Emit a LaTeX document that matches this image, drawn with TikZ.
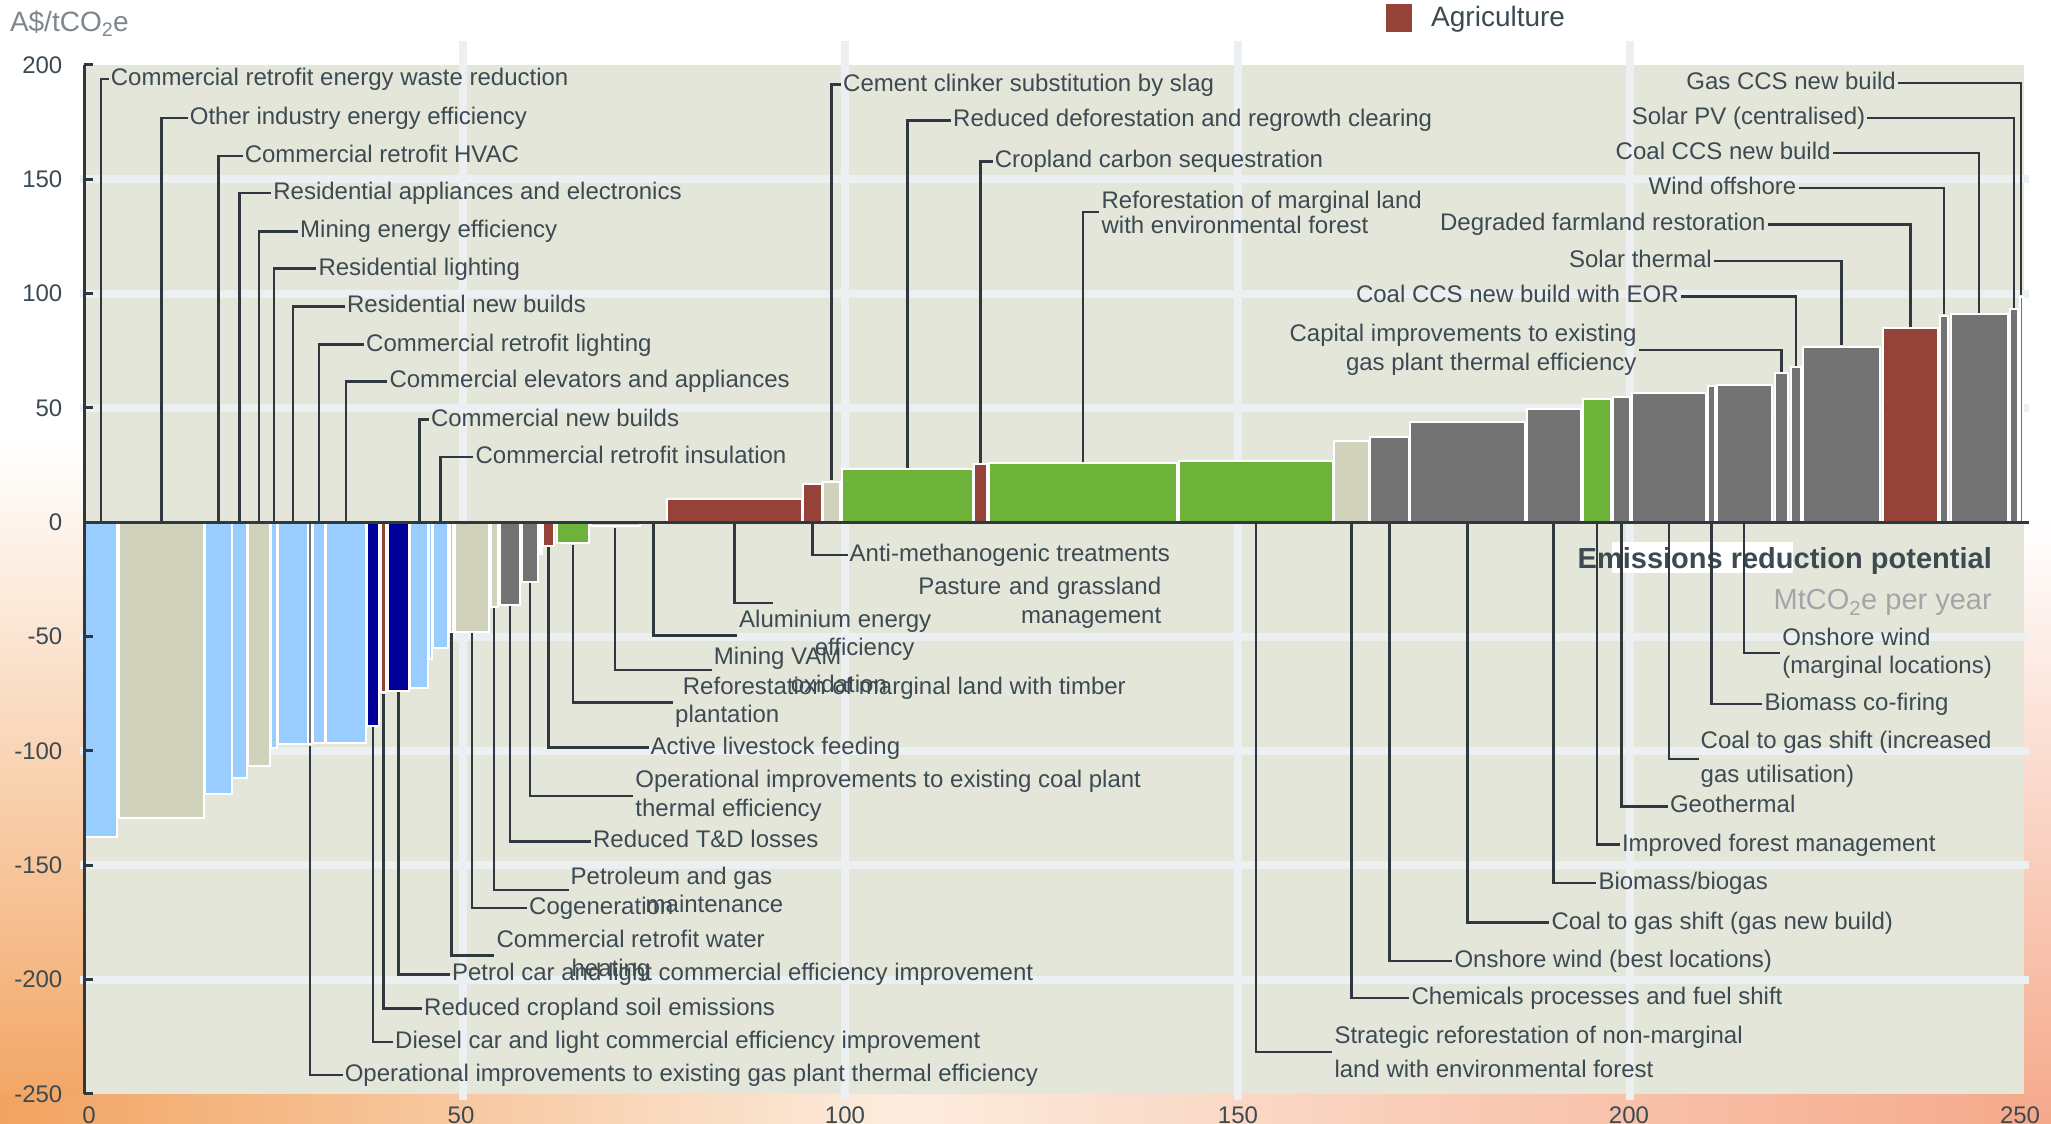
\documentclass[tikz,border=0pt]{standalone}
\usepackage{fontspec}
\setmainfont{Liberation Sans}
\usepackage{tikz}

\definecolor{plotbg}{RGB}{229,230,218}
\definecolor{gridc}{RGB}{237,240,242}
\definecolor{lblue}{RGB}{153,204,255}
\definecolor{dblue}{RGB}{0,0,153}
\definecolor{sand}{RGB}{209,210,188}
\definecolor{agri}{RGB}{149,66,56}
\definecolor{forest}{RGB}{109,179,57}
\definecolor{power}{RGB}{115,115,115}
\definecolor{ink}{RGB}{60,74,82}
\definecolor{axisc}{RGB}{46,56,62}
\definecolor{unitc}{RGB}{125,136,142}
\definecolor{subc}{RGB}{163,166,168}
\definecolor{glowL}{RGB}{242,163,96}
\definecolor{glowM}{RGB}{252,236,222}
\definecolor{glowP}{RGB}{250,222,200}
\definecolor{glowR}{RGB}{245,168,138}

\tikzset{
    lbl/.style={
           font=\fontsize{24}{28.5}\selectfont,
           text=ink,
           inner xsep=2pt, inner ysep=0pt,
           text height=17pt, text depth=4pt,
           },
    lblm/.style={
           font=\fontsize{24}{28.5}\selectfont,
           text=ink,
           inner xsep=2pt, inner ysep=0pt,
           align=left,
           },
    conn/.style={
           draw=axisc,
           line width=2.4pt,
           shorten <=1.5pt,
           },
    barbox/.style={
           draw=white,
           line width=2pt,
           },
    gridln/.style={
           draw=gridc,
           line width=8pt,
           },
    axisln/.style={
           draw=axisc,
           line width=3pt,
           },
    ticklbl/.style={
           font=\fontsize{24}{28}\selectfont,
           text=ink,
           inner sep=0pt,
           }
}

% bar: name, from, to, A$/tCO2e, colour
\newcommand{\macbar}[5]{%
  \draw[barbox, fill=#5] (#2,0) rectangle (#3,#4);
  \coordinate (#1) at ({(#2+#3)/2},#4);
  \coordinate (#1-0) at ({(#2+#3)/2},0);
}

\begin{document}
\begin{tikzpicture}[x=1pt,y=-1pt]
\useasboundingbox (0,0) rectangle (2051,1124);
\fill[white] (0,0) rectangle (2051,1124);
\shade[top color=white, middle color=glowM, bottom color=glowL] (0,440) rectangle (84,1124);
\shade[left color=glowL, right color=glowM] (0,1094) rectangle (900,1124);
\shade[left color=glowM, right color=glowR] (900,1094) rectangle (2051,1124);
\shade[top color=white, middle color=glowP, bottom color=glowR] (2024,520) rectangle (2051,1124);

\node[anchor=west, font=\fontsize{28}{30}\selectfont, text=unitc, inner sep=0pt] (unit) at (9.8,23.2) {A\$/tCO\textsubscript{2}e};
\fill[agri] (1386,4) rectangle (1412,32);
\node[anchor=west, font=\fontsize{28}{30}\selectfont, text=ink, inner sep=0pt] (agr) at (1431,19.6) {Agriculture};

\begin{scope}[shift={(0,522.2)},y=2.287pt]
\fill[plotbg] (84,200) rectangle (2024,-250);
\foreach \v in {150,100,50,-50,-100,-150,-200}
    \draw[gridln] (80,\v) -- (2029,\v);
\end{scope}
\foreach \x in {463,844.6,1237.7,1630}
    \draw[gridln] (\x,41) -- (\x,1100);
\fill[white] (1611.6,541.8) rectangle (1793,572.8);

\begin{scope}[shift={(0,522.2)},y=2.287pt]
\macbar{b1}{84.7}{117.3}{-137.8}{lblue}
\macbar{b2}{119}{204}{-129.5}{sand}
\macbar{b3}{205}{231.7}{-118.9}{lblue}
\macbar{b4}{232.3}{246.7}{-111.7}{lblue}
\macbar{b5}{248.3}{270}{-106.5}{sand}
\macbar{b6}{271}{277.3}{-98.9}{lblue}
\macbar{b7}{278.3}{307.7}{-97.1}{lblue}
\macbar{b8}{308.3}{311.7}{-97}{power}
\macbar{b9}{312.7}{325}{-96.7}{lblue}
\macbar{b10}{326}{366}{-96.7}{lblue}
\macbar{b11}{367.3}{379}{-89}{dblue}
\macbar{b12}{381}{386}{-74.4}{agri}
\macbar{b13}{388.3}{409}{-73.8}{dblue}
\macbar{b14}{410.3}{428.3}{-72.6}{lblue}
\macbar{b15}{429.4}{431.6}{-60}{lblue}
\macbar{b16}{432.7}{448.3}{-54.9}{lblue}
\macbar{b17}{450}{453.3}{-47.9}{lblue}
\macbar{b18}{455}{489.3}{-47.9}{sand}
\macbar{b19}{490.7}{497.7}{-36.9}{sand}
\macbar{b20}{500}{520}{-36.2}{power}
\macbar{b21}{522}{538.3}{-26}{power}
\macbar{b22}{539.6}{541.9}{-14}{power}
\macbar{b23}{543.3}{554}{-10.3}{agri}
\macbar{b24}{556.7}{589.3}{-9.2}{forest}
\macbar{b25}{590.5}{640}{-1.7}{sand}
\macbar{b26}{640.5}{666.5}{-0.3}{sand}
\macbar{b27}{667.3}{801.7}{10}{agri}
\macbar{b28}{802.7}{822.3}{16.6}{agri}
\macbar{b29}{823.3}{840}{17.7}{sand}
\macbar{b30}{841.7}{973.3}{23.1}{forest}
\macbar{b31}{974}{987.3}{25.3}{agri}
\macbar{b32}{989}{1177.3}{25.7}{forest}
\macbar{b33}{1178.7}{1333.3}{26.8}{forest}
\macbar{b34}{1334.3}{1369}{35.4}{sand}
\macbar{b35}{1370}{1409}{37.4}{power}
\macbar{b36}{1410}{1525}{43.8}{power}
\macbar{b37}{1526.7}{1580.5}{49.3}{power}
\macbar{b38}{1583}{1611}{53.9}{forest}
\macbar{b39}{1612.7}{1630}{54.6}{power}
\macbar{b40}{1632}{1705.7}{56.6}{power}
\macbar{b41}{1707.7}{1715}{59.6}{power}
\macbar{b42}{1716.7}{1771.7}{60}{power}
\macbar{b43}{1775}{1788.3}{65.1}{power}
\macbar{b44}{1790.7}{1800.7}{67.7}{power}
\macbar{b45}{1803.3}{1880}{76.7}{power}
\macbar{b46}{1883}{1938.3}{84.8}{agri}
\macbar{b47}{1940}{1948.3}{90.3}{power}
\macbar{b48}{1950.7}{2007.7}{91}{power}
\macbar{b49}{2010}{2018.3}{93.1}{power}
\macbar{b50}{2019.5}{2023}{98.5}{power}

% axes
\draw[axisln] (84,200) -- (84,-250);
\draw[axisln] (84,0) -- (2029,0);
\foreach \v in {200,150,...,-250}{
    \draw[axisln] (84,\v) -- (93,\v);
    \node[ticklbl, anchor=east] (y\v) at (62.5,\v) {\v};
}
\end{scope}
\foreach \x/\t in {89/0,461/50,845/100,1238/150,1629/200,2020/250}
    \node[ticklbl] (x\t) at (\x,1115) {\t};

\node[anchor=east, font=\bfseries\fontsize{29}{31}\selectfont, text=ink, inner sep=0pt] (erp) at (1992,560.5) {Emissions reduction potential};
\node[anchor=east, font=\fontsize{29}{31}\selectfont, text=subc, inner sep=0pt] (mte) at (1992,602.7) {MtCO\textsubscript{2}e per year};

% labels above the axis, left
\node[lbl, anchor=west] (t1) at (108.7,79.3) {Commercial retrofit energy waste reduction};
\node[lbl, anchor=west] (t2) at (187.7,117.9) {Other industry energy efficiency};
\node[lbl, anchor=west] (t3) at (242.6,156.1) {Commercial retrofit HVAC};
\node[lbl, anchor=west] (t4) at (271.2,192.9) {Residential appliances and electronics};
\node[lbl, anchor=west] (t5) at (298,231.4) {Mining energy efficiency};
\node[lbl, anchor=west] (t6) at (316.3,268.6) {Residential lighting};
\node[lbl, anchor=west] (t7) at (344.9,306.4) {Residential new builds};
\node[lbl, anchor=west] (t8) at (364,344.6) {Commercial retrofit lighting};
\node[lbl, anchor=west] (t9) at (387.3,381.4) {Commercial elevators and appliances};
\node[lbl, anchor=west] (t10) at (428.8,419.6) {Commercial new builds};
\node[lbl, anchor=west] (t11) at (473.4,457.1) {Commercial retrofit insulation};

% labels below the axis, left
\node[lbl, anchor=west] (t12) at (342.6,1075) {Operational improvements to existing gas plant thermal efficiency};
\node[lbl, anchor=west] (t13) at (393,1042) {Diesel car and light commercial efficiency improvement};
\node[lbl, anchor=west] (t14) at (422,1008.6) {Reduced cropland soil emissions};
\node[lbl, anchor=west] (t15) at (449.8,974.3) {Petrol car and light commercial efficiency improvement};
\node[lblm, anchor=west] (t16) at (494.4,955.6) {Commercial retrofit water\\\hspace*{75pt}heating};
\node[lbl, anchor=west] (t17) at (527,907.9) {Cogeneration};
\node[lblm, anchor=west] (t18) at (568.5,890) {Petroleum and gas\\\hspace*{75pt}maintenance};
\node[lbl, anchor=west] (t19) at (590.9,841.4) {Reduced T\&D losses};
\node[lblm, anchor=west] (t20) at (633.2,796) {Operational improvements to existing coal plant\\thermal efficiency};
\node[lbl, anchor=west] (t21) at (648.5,747.5) {Active livestock feeding};
\node[lblm, anchor=west] (t22) at (673,702.3) {\hspace*{7.7pt}Reforestation of marginal land with timber\\plantation};
\node[lblm, anchor=west] (t23) at (711.6,670) {Mining VAM\\\hspace*{77pt}oxidation};
\node[lblm, anchor=west] (t24) at (737,635.5) {Aluminium energy\\\hspace*{75.6pt}efficiency};
\node[lblm, align=right, text width=386pt, anchor=west] (t25) at (773,602.8) {Pasture and grassland\\management};
\node[lbl, anchor=west] (t26) at (847.5,555) {Anti-methanogenic treatments};

% labels above the axis, middle
\node[lbl, anchor=west] (t27) at (841,84.6) {Cement clinker substitution by slag};
\node[lbl, anchor=west] (t28) at (951,120.4) {Reduced deforestation and regrowth clearing};
\node[lbl, anchor=west] (t29) at (992.7,161.4) {Cropland carbon sequestration};
\node[lblm, anchor=west] (t30) at (1099.4,212.2) {Reforestation of marginal land\\[-3pt]with environmental forest};

% labels below the axis, right
\node[lblm, anchor=west] (t31) at (1332.3,1051.8) {Strategic reforestation of non-marginal\\[6pt]land with environmental forest};
\node[lbl, anchor=west] (t32) at (1409.4,998.2) {Chemicals processes and fuel shift};
\node[lbl, anchor=west] (t33) at (1452.3,960.8) {Onshore wind (best locations)};
\node[lbl, anchor=west] (t34) at (1549.3,922.6) {Coal to gas shift (gas new build)};
\node[lbl, anchor=west] (t35) at (1596.3,883.2) {Biomass/biogas};
\node[lbl, anchor=west] (t36) at (1619.8,844.6) {Improved forest management};
\node[lbl, anchor=west] (t37) at (1667.8,806.4) {Geothermal};
\node[lblm, anchor=west] (t38) at (1698.5,759.2) {Coal to gas shift (increased\\[6pt]gas utilisation)};
\node[lbl, anchor=west] (t39) at (1762.3,704.1) {Biomass co-firing};
\node[lblm, anchor=west] (t40) at (1780.2,653.2) {Onshore wind\\(marginal locations)};

% labels above the axis, right
\node[lblm, align=right, anchor=east] (t41) at (1638.6,350) {Capital improvements to existing\\gas plant thermal efficiency};
\node[lbl, anchor=east] (t42) at (1681,296.4) {Coal CCS new build with EOR};
\node[lbl, anchor=east] (t43) at (1714,260.7) {Solar thermal};
\node[lbl, anchor=east] (t44) at (1767.8,224.3) {Degraded farmland restoration};
\node[lbl, anchor=east] (t45) at (1798.5,188.2) {Wind offshore};
\node[lbl, anchor=east] (t46) at (1832.7,152.9) {Coal CCS new build};
\node[lbl, anchor=east] (t47) at (1867.4,117.9) {Solar PV (centralised)};
\node[lbl, anchor=east] (t48) at (1898,82.9) {Gas CCS new build};

% connectors
\draw[conn] (b1-0) |- (t1.west);
\draw[conn] (b2-0) |- (t2.west);
\draw[conn] (b3-0) |- (t3.west);
\draw[conn] (b4-0) |- (t4.west);
\draw[conn] (b5-0) |- (t5.west);
\draw[conn] (b6-0) |- (t6.west);
\draw[conn] (b7-0) |- (t7.west);
\draw[conn] (b9-0) |- (t8.west);
\draw[conn] (b10-0) |- (t9.west);
\draw[conn] (b14-0) |- (t10.west);
\draw[conn] (b16-0) |- (t11.west);
\draw[conn] (b8) |- (t12.west);
\draw[conn] (b11) |- (t13.west);
\draw[conn] (b12) |- (t14.west);
\draw[conn] (b13) |- (t15.west);
\draw[conn] (b17) |- (t16.west);
\draw[conn] (b18) |- (t17.west);
\draw[conn] (b19) |- (t18.west);
\draw[conn] (b20) |- (t19.west);
\draw[conn] (b21) |- (t20.west);
\draw[conn] (b23) |- (t21.west);
\draw[conn] (b24) |- (t22.west);
\draw[conn] (b25) |- (t23.west);
\draw[conn] (b26) |- (t24.west);
\draw[conn] (b27-0) |- (t25.west);
\draw[conn] (b28-0) |- (t26.west);
\draw[conn] (b29) |- (t27.west);
\draw[conn] (b30) |- (t28.west);
\draw[conn] (b31) |- (t29.west);
\draw[conn] (b32) |- (t30.west);
\draw[conn] (b33-0) |- (t31.west);
\draw[conn] (b34-0) |- (t32.west);
\draw[conn] (b35-0) |- (t33.west);
\draw[conn] (b36-0) |- (t34.west);
\draw[conn] (b37-0) |- (t35.west);
\draw[conn] (b38-0) |- (t36.west);
\draw[conn] (b39-0) |- (t37.west);
\draw[conn] (b40-0) |- (t38.west);
\draw[conn] (b41-0) |- (t39.west);
\draw[conn] (b42-0) |- (t40.west);
\draw[conn] (b43) |- (t41.east);
\draw[conn] (b44) |- (t42.east);
\draw[conn] (b45) |- (t43.east);
\draw[conn] (b46) |- (t44.east);
\draw[conn] (b47) |- (t45.east);
\draw[conn] (b48) |- (t46.east);
\draw[conn] (b49) |- (t47.east);
\draw[conn] (b50) |- (t48.east);
\end{tikzpicture}
\end{document}
